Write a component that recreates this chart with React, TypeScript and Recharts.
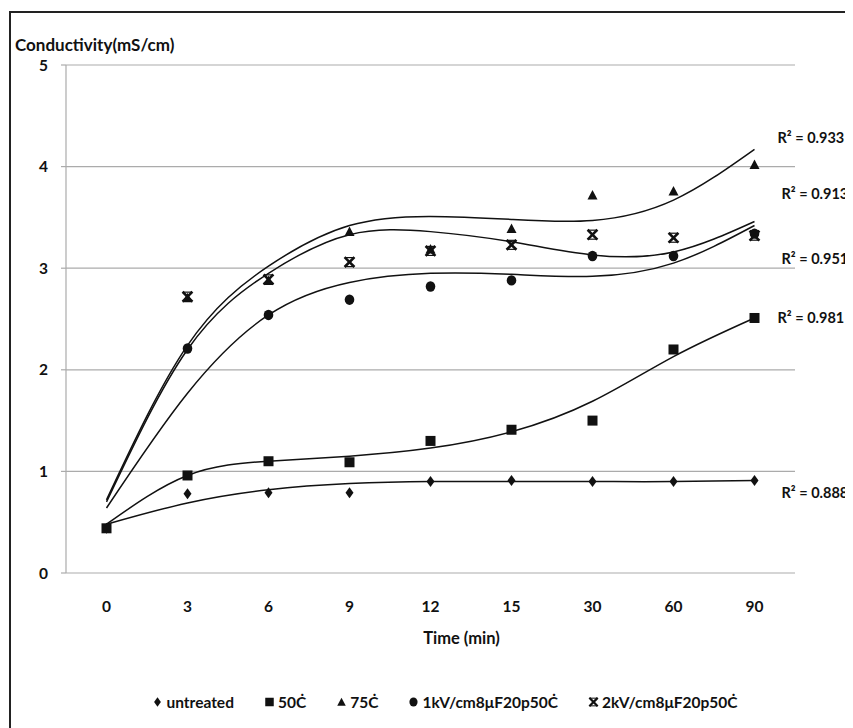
import React from 'react';
import { ComposedChart, Line, XAxis, YAxis, CartesianGrid, Legend } from 'recharts';

const TIMES = ['0', '3', '6', '9', '12', '15', '30', '60', '90'];
const INDEX_TICKS = [0, 1, 2, 3, 4, 5, 6, 7, 8];
const EDGE_TICKS = [-0.5, 0.5, 1.5, 2.5, 3.5, 4.5, 5.5, 6.5, 7.5, 8.5];
const Y_TICKS = [0, 1, 2, 3, 4, 5];

// measured points
const UNTREATED = [0.44, 0.78, 0.79, 0.79, 0.9, 0.91, 0.9, 0.9, 0.91];
const C50 = [0.44, 0.96, 1.1, 1.09, 1.3, 1.41, 1.5, 2.2, 2.51];
const C75 = [null, 2.71, 2.88, 3.36, 3.19, 3.39, 3.72, 3.76, 4.02];
const KV1 = [null, 2.21, 2.54, 2.69, 2.82, 2.88, 3.12, 3.12, 3.34];
const KV2 = [null, 2.72, 2.89, 3.06, 3.17, 3.23, 3.33, 3.3, 3.32];

// polynomial trend lines at each time
const UNTREATED_FIT = [0.48, 0.69, 0.82, 0.88, 0.9, 0.9, 0.9, 0.9, 0.91];
const C50_FIT = [0.48, 0.96, 1.1, 1.15, 1.23, 1.39, 1.69, 2.13, 2.51];
const C75_FIT = [0.72, 2.24, 3.02, 3.42, 3.51, 3.48, 3.47, 3.67, 4.17];
const KV1_FIT = [0.64, 1.77, 2.54, 2.86, 2.95, 2.94, 2.92, 3.05, 3.42];
const KV2_FIT = [0.7, 2.2, 2.95, 3.33, 3.36, 3.26, 3.13, 3.16, 3.46];

const NAMES = ['untreated', '50Ċ', '75Ċ', '1kV/cm8μF20p50Ċ', '2kV/cm8μF20p50Ċ'];
const R2 = ['0.888', '0.981', '0.933', '0.951', '0.913'];

const INK = '#111';
const GRID = '#ababab';
const FONT = 'Lato, "Noto Sans", sans-serif';

const SERIES = [
  { key: 'untreated', values: UNTREATED, fit: UNTREATED_FIT, shape: 'diamond', dx: 27, dy: 12 },
  { key: 'c50', values: C50, fit: C50_FIT, shape: 'square', dx: 23, dy: 0 },
  { key: 'c75', values: C75, fit: C75_FIT, shape: 'triangle', dx: 23, dy: -12 },
  { key: 'kv1', values: KV1, fit: KV1_FIT, shape: 'circle', dx: 27, dy: 33 },
  { key: 'kv2', values: KV2, fit: KV2_FIT, shape: 'star', dx: 27, dy: -28 },
].map((s, i) => ({ ...s, name: NAMES[i], r2: R2[i] }));

const data = TIMES.map((t, i) => {
  const row: Record<string, number | string | null> = { idx: i, time: t };
  SERIES.forEach((s) => {
    row[s.key] = s.values[i];
    row[s.key + 'Fit'] = s.fit[i];
  });
  return row;
});

function Marker({ shape, cx, cy, k = 1 }: { shape: string; cx: number; cy: number; k?: number }) {
  switch (shape) {
    case 'diamond':
      return (
        <polygon
          points={`${cx},${cy - 5.5 * k} ${cx + 4 * k},${cy} ${cx},${cy + 5.5 * k} ${cx - 4 * k},${cy}`}
          fill={INK}
        />
      );
    case 'square':
      return <rect x={cx - 5 * k} y={cy - 5 * k} width={10 * k} height={10 * k} fill={INK} />;
    case 'triangle':
      return (
        <polygon
          points={`${cx},${cy - 5 * k} ${cx + 5 * k},${cy + 4.5 * k} ${cx - 5 * k},${cy + 4.5 * k}`}
          fill={INK}
        />
      );
    case 'circle':
      return <ellipse cx={cx} cy={cy} rx={4.8 * k} ry={5.2 * k} fill={INK} />;
    default:
      return (
        <g stroke={INK} strokeWidth={2.6 * k} strokeLinecap="square">
          <line x1={cx - 4 * k} y1={cy - 4 * k} x2={cx + 4 * k} y2={cy + 4 * k} />
          <line x1={cx + 4 * k} y1={cy - 4 * k} x2={cx - 4 * k} y2={cy + 4 * k} />
          <line x1={cx - 4 * k} y1={cy - 4.5 * k} x2={cx + 4 * k} y2={cy - 4.5 * k} strokeWidth={1.2 * k} />
          <line x1={cx - 4 * k} y1={cy + 4.5 * k} x2={cx + 4 * k} y2={cy + 4.5 * k} strokeWidth={1.2 * k} />
        </g>
      );
  }
}

function LegendRow() {
  return (
    <div
      style={{
        height: 50,
        paddingTop: 28,
        paddingLeft: 84,
        boxSizing: 'border-box',
        display: 'flex',
        justifyContent: 'center',
        fontFamily: FONT,
        fontWeight: 700,
        fontSize: 15.5,
        lineHeight: '18px',
        color: INK,
      }}
    >
      {SERIES.map((s) => (
        <span key={s.key} style={{ display: 'flex', alignItems: 'center', margin: '0 15px' }}>
          <svg width={11} height={12} style={{ marginRight: 3 }}>
            <Marker shape={s.shape} cx={5.5} cy={6} k={0.85} />
          </svg>
          {s.name}
        </span>
      ))}
    </div>
  );
}

export default function App() {
  return (
    <div style={{ width: 845, height: 720, overflow: 'hidden' }}>
      <div
        style={{
          marginLeft: 1,
          marginTop: 3,
          width: 900,
          height: 800,
          border: '2px solid #222',
          overflow: 'hidden',
          fontFamily: FONT,
        }}
      >
        <ComposedChart width={880} height={700} data={data} margin={{ top: 52, right: 96, left: 0, bottom: 0 }}>
          <CartesianGrid horizontal vertical={false} stroke={GRID} strokeWidth={1.2} xAxisId="t" />
          <XAxis
            xAxisId="e"
            dataKey="idx"
            type="number"
            domain={[-0.5, 8.5]}
            ticks={EDGE_TICKS}
            tickFormatter={() => ''}
            height={0}
            tickSize={6}
            stroke={GRID}
            strokeWidth={1.2}
          />
          <XAxis
            xAxisId="t"
            dataKey="idx"
            type="number"
            domain={[-0.5, 8.5]}
            ticks={INDEX_TICKS}
            tickFormatter={(v: number) => TIMES[v]}
            axisLine={false}
            tickLine={false}
            tickSize={0}
            tickMargin={28}
            height={90}
            tick={{ fill: INK, fontSize: 15.5, fontWeight: 700 }}
            label={{
              content: (p: any) => (
                <text
                  x={p.viewBox.x + p.viewBox.width / 2 + 31}
                  y={p.viewBox.y + 71}
                  textAnchor="middle"
                  fill={INK}
                  fontSize={16.5}
                  fontWeight={700}
                >
                  Time (min)
                </text>
              ),
            }}
          />
          <YAxis
            domain={[0, 5]}
            ticks={Y_TICKS}
            width={55}
            stroke={GRID}
            strokeWidth={1.2}
            tickSize={5}
            tickMargin={13}
            tick={{ fill: INK, fontSize: 15.5, fontWeight: 700 }}
            label={{
              content: (p: any) => (
                <text x={p.viewBox.x + 4} y={p.viewBox.y - 14} fill={INK} fontSize={17} fontWeight={700}>
                  Conductivity(mS/cm)
                </text>
              ),
            }}
          />
          <Legend verticalAlign="bottom" height={50} content={() => <LegendRow />} />
          {SERIES.map((s) => (
            <Line
              key={s.key + 'Fit'}
              xAxisId="t"
              dataKey={s.key + 'Fit'}
              type="natural"
              stroke={INK}
              strokeWidth={1.5}
              isAnimationActive={false}
              legendType="none"
              activeDot={false}
              dot={(p: any) =>
                p.index === TIMES.length - 1 ? (
                  <text
                    key={s.key + 'r2'}
                    x={p.cx + s.dx}
                    y={p.cy + s.dy}
                    dominantBaseline="central"
                    fill={INK}
                    fontSize={14.5}
                    fontWeight={700}
                  >
                    R² = {s.r2}
                  </text>
                ) : (
                  <g key={s.key + 'f' + p.index} />
                )
              }
            />
          ))}
          {SERIES.map((s) => (
            <Line
              key={s.key}
              xAxisId="t"
              dataKey={s.key}
              name={s.name}
              stroke="none"
              isAnimationActive={false}
              activeDot={false}
              dot={(p: any) =>
                p.value == null || p.cy == null ? (
                  <g key={s.key + p.index} />
                ) : (
                  <Marker key={s.key + p.index} shape={s.shape} cx={p.cx} cy={p.cy} />
                )
              }
            />
          ))}
        </ComposedChart>
      </div>
    </div>
  );
}
